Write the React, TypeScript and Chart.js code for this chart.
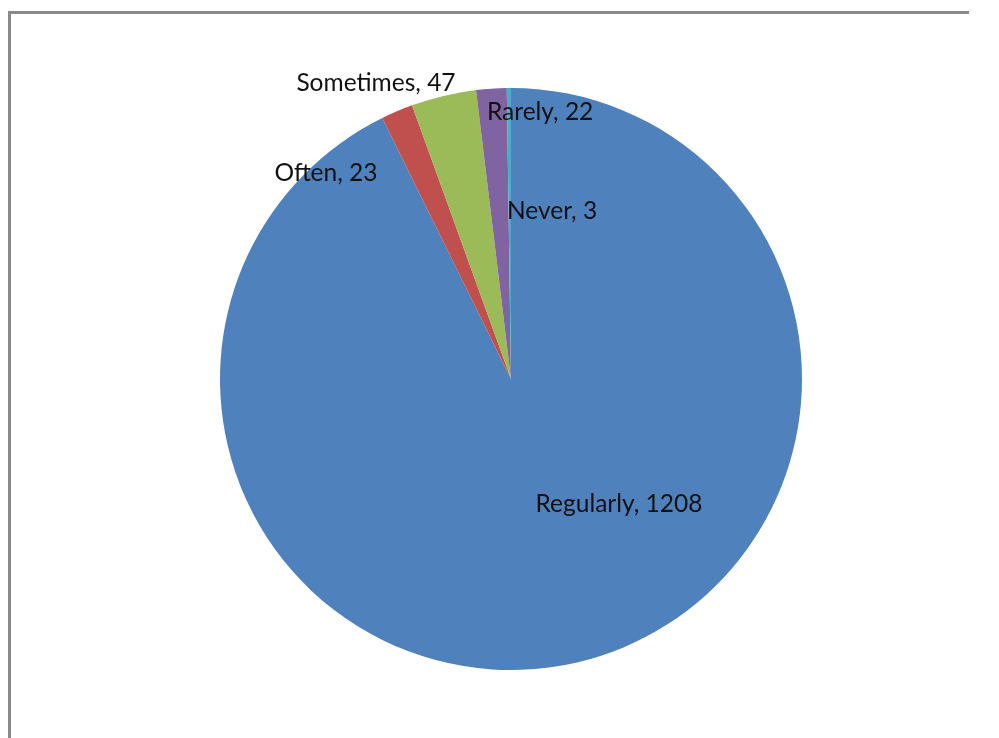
import React, { useEffect, useRef } from "react";
import { Chart, registerables } from "chart.js";

Chart.register(...registerables);

const categories = ["Regularly", "Often", "Sometimes", "Rarely", "Never"];
const counts = [1208, 23, 47, 22, 3];
const sliceColors = ["#4F81BD", "#C0504D", "#9BBB59", "#8064A2", "#4BACC6"];

// label placement relative to pie center, in units of the pie radius
const labelOffsets: [number, number][] = [
  [0.371, 0.43],
  [-0.636, -0.708],
  [-0.464, -1.017],
  [0.1, -0.918],
  [0.141, -0.577],
];

const framePlugin = {
  id: "frame",
  beforeDraw(chart: any) {
    const ctx = chart.ctx;
    ctx.save();
    ctx.fillStyle = "#ffffff";
    ctx.fillRect(0, 0, chart.width, chart.height);
    ctx.fillStyle = "#8a8a8a";
    ctx.fillRect(8, 11, 3, chart.height - 11);
    ctx.fillRect(8, 11, chart.width - 38, 3);
    ctx.restore();
  },
};

const labelPlugin = {
  id: "sliceLabels",
  afterDatasetsDraw(chart: any) {
    const meta = chart.getDatasetMeta(0);
    const ctx = chart.ctx;
    ctx.save();
    ctx.font = "24.5px Lato, 'Liberation Sans', sans-serif";
    ctx.fillStyle = "#111111";
    ctx.textAlign = "center";
    ctx.textBaseline = "middle";
    meta.data.forEach((arc: any, i: number) => {
      const { x, y, outerRadius } = arc.getProps(["x", "y", "outerRadius"], true);
      const [fx, fy] = labelOffsets[i];
      ctx.fillText(`${categories[i]}, ${counts[i]}`, x + fx * outerRadius, y + fy * outerRadius);
    });
    ctx.restore();
  },
};

export default function App() {
  const ref = useRef<HTMLCanvasElement | null>(null);
  useEffect(() => {
    if (!ref.current) return;
    const chart = new Chart(ref.current, {
      type: "pie",
      data: {
        labels: categories,
        datasets: [
          {
            data: counts,
            backgroundColor: sliceColors,
            borderWidth: 0,
          },
        ],
      },
      options: {
        responsive: false,
        animation: false,
        layout: { padding: { top: 88, bottom: 68, left: 220, right: 197 } },
        plugins: { legend: { display: false }, tooltip: { enabled: false } },
      },
      plugins: [framePlugin, labelPlugin],
    });
    return () => chart.destroy();
  }, []);
  return (
    <div style={{ position: "fixed", left: 0, top: 0, width: 999, height: 738, background: "#fff" }}>
      <canvas ref={ref} width={999} height={738} style={{ display: "block" }} />
    </div>
  );
}
